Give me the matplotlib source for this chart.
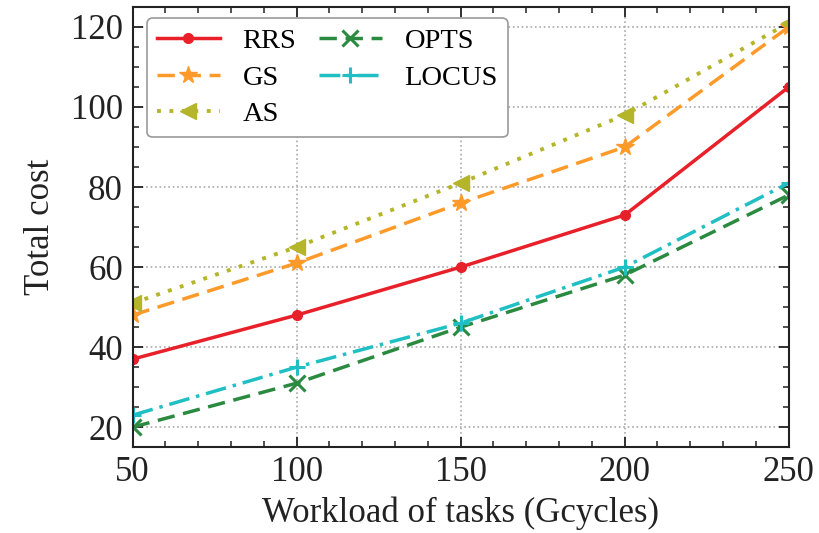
import matplotlib
matplotlib.use("Agg")
import matplotlib.pyplot as plt
from matplotlib.ticker import MultipleLocator

workload = [50, 100, 150, 200, 250]
rrs = [37, 48, 60, 73, 105]
gs = [48, 61, 76, 90, 120]
as_ = [51, 65, 81, 98, 121]
opts = [20, 31, 45, 58, 78]
locus = [23, 35, 46, 60, 81]

plt.rcParams["font.family"] = ["Liberation Serif", "DejaVu Serif"]

fig = plt.figure(figsize=(8.19, 5.33), dpi=100)
ax = fig.add_axes([0.162, 0.161, 0.801, 0.826])

lw = 2.5
ax.plot(workload, rrs, color="#e8202a", ls="-", marker="o", ms=7, lw=lw, label="RRS")
ax.plot(workload, gs, color="#fd9a2a", ls=(0, (5, 2.5)), marker="*", ms=13, lw=lw, label="GS")
ax.plot(workload, as_, color="#b5b52a", ls=(0, (1, 2.2)), marker="<", ms=11, lw=lw + 0.3, label="AS")
ax.plot(workload, opts, color="#2a8a40", ls=(0, (5, 2.5)), marker="x", ms=11, mew=2.2, lw=lw, label="OPTS")
ax.plot(workload, locus, color="#1fbfc4", ls=(0, (6, 2, 1, 2)), marker="+", ms=12, mew=2.2, lw=lw, label="LOCUS")

ax.set_xlim(50, 250)
ax.set_ylim(15, 125)
ax.xaxis.set_major_locator(MultipleLocator(50))
ax.xaxis.set_minor_locator(MultipleLocator(10))
ax.yaxis.set_major_locator(MultipleLocator(20))
ax.yaxis.set_minor_locator(MultipleLocator(5))
ax.tick_params(which="both", direction="in", top=True, right=True, labelsize=25, colors="#222222")
ax.tick_params(which="major", length=7, width=1.3)
ax.tick_params(which="minor", length=4, width=1.1)
ax.tick_params(axis="x", pad=6)
ax.tick_params(axis="y", pad=7)
for s in ax.spines.values():
    s.set_linewidth(1.5)
    s.set_color("#222222")
ax.grid(True, which="major", ls=":", color="#aaaaaa", lw=1.2)

ax.set_xlabel("Workload of tasks (Gcycles)", fontsize=25, color="#222222", labelpad=6)
ax.set_ylabel("Total cost", fontsize=25, color="#222222", labelpad=10)

leg = ax.legend(loc="upper left", ncol=2, fontsize=20.5, frameon=True, fancybox=True,
                edgecolor="#999999", framealpha=1, borderpad=0.35, handlelength=2.2,
                handletextpad=0.8, columnspacing=0.8, labelspacing=0.38,
                borderaxespad=0, bbox_to_anchor=(0.022, 0.975))
leg.get_frame().set_linewidth(1.2)

fig.savefig("out.png", dpi=100)
